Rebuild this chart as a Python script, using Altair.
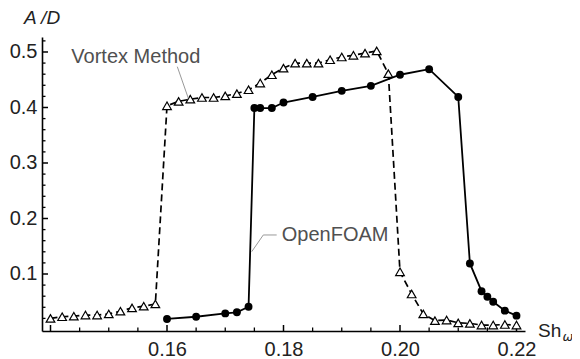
import altair as alt
import pandas as pd

# ---- data ----
vm_x = [0.140, 0.142, 0.144, 0.146, 0.148, 0.150, 0.152, 0.154, 0.156, 0.158,
        0.160, 0.162, 0.164, 0.166, 0.168, 0.170, 0.172, 0.174, 0.176, 0.178,
        0.180, 0.182, 0.184, 0.186, 0.188, 0.190, 0.192, 0.194, 0.196, 0.198,
        0.200, 0.202, 0.204, 0.206, 0.208, 0.210, 0.212, 0.214, 0.216, 0.218, 0.220]
vm_y = [0.020, 0.023, 0.024, 0.026, 0.026, 0.028, 0.033, 0.039, 0.042, 0.046,
        0.403, 0.411, 0.415, 0.418, 0.418, 0.421, 0.425, 0.432, 0.444, 0.459,
        0.471, 0.480, 0.480, 0.480, 0.486, 0.491, 0.494, 0.498, 0.502, 0.461,
        0.104, 0.064, 0.028, 0.016, 0.017, 0.012, 0.011, 0.008, 0.008, 0.009, 0.008]

of_x = [0.160, 0.165, 0.170, 0.172, 0.174, 0.175, 0.176, 0.178, 0.180, 0.185,
        0.190, 0.195, 0.200, 0.205, 0.210, 0.212, 0.214, 0.215, 0.216, 0.218, 0.220]
of_y = [0.019, 0.023, 0.029, 0.031, 0.041, 0.399, 0.399, 0.399, 0.409, 0.419,
        0.430, 0.439, 0.459, 0.469, 0.419, 0.119, 0.069, 0.059, 0.050, 0.034, 0.025]

x_labels = [0.16, 0.18, 0.20, 0.22]
x_major = [0.14, 0.16, 0.18, 0.20, 0.22]
x_minor = [0.145, 0.15, 0.155, 0.165, 0.17, 0.175, 0.185, 0.19, 0.195, 0.205, 0.21, 0.215]
y_major = [0.1, 0.2, 0.3, 0.4, 0.5]
y_minor = [0.02, 0.04, 0.06, 0.08, 0.12, 0.14, 0.16, 0.18, 0.22, 0.24, 0.26, 0.28,
           0.32, 0.34, 0.36, 0.38, 0.42, 0.44, 0.46, 0.48, 0.52]

labels = ["Vortex Method", "OpenFOAM"]
label_x = [0.15465, 0.1797]
label_y = [0.4905, 0.1695]
leader_group = ["vm", "vm", "of", "of", "of"]
leader_x = [0.16177, 0.16366, 0.17454, 0.17653, 0.17883]
leader_y = [0.4735, 0.4166, 0.1402, 0.1703, 0.1703]

x_domain = [0.13854, 0.22146]
y_domain = [-0.0027, 0.527]

W, H = 483, 294
FONT = "Liberation Sans"

xscale = alt.Scale(domain=x_domain, nice=False, zero=False)
yscale = alt.Scale(domain=y_domain, nice=False, zero=False)
xaxis = alt.Axis(values=x_labels, format=".2f", ticks=False, grid=False, labelFontSize=20,
                 labelFont=FONT, labelColor="#222", labelPadding=8, domainColor="black",
                 domainWidth=1.6, title=None)
yaxis = alt.Axis(values=y_major, format=".1f", ticks=False, grid=False, labelFontSize=20,
                 labelFont=FONT, labelColor="#222", labelPadding=5, domainColor="black",
                 domainWidth=1.6, title=None)


def X(f):
    return alt.X(f, type="quantitative", scale=xscale, axis=xaxis, title=None)


def Y(f):
    return alt.Y(f, type="quantitative", scale=yscale, axis=yaxis, title=None)


vm = pd.DataFrame({"x": vm_x, "y": vm_y})
of = pd.DataFrame({"x": of_x, "y": of_y})

vm_line = alt.Chart(vm).mark_line(color="black", strokeWidth=1.7, strokeDash=[7, 4]).encode(x=X("x"), y=Y("y"))
vm_pts = alt.Chart(vm).mark_point(shape="triangle-up", filled=True, fill="white", stroke="black",
                                  strokeWidth=1.2, size=75, opacity=1).encode(x=X("x"), y=Y("y"))
of_line = alt.Chart(of).mark_line(color="black", strokeWidth=1.8).encode(x=X("x"), y=Y("y"))
of_pts = alt.Chart(of).mark_circle(color="black", size=62, opacity=1).encode(x=X("x"), y=Y("y"))

yt_major = alt.Chart(pd.DataFrame({"v": y_major})).mark_rule(color="black", strokeWidth=1.5).encode(
    y=Y("v"), x=alt.value(0), x2=alt.value(6))
yt_minor = alt.Chart(pd.DataFrame({"v": y_minor})).mark_rule(color="black", strokeWidth=1.3).encode(
    y=Y("v"), x=alt.value(0), x2=alt.value(3.5))
xt_major = alt.Chart(pd.DataFrame({"v": x_major})).mark_rule(color="black", strokeWidth=1.5).encode(
    x=X("v"), y=alt.value(H), y2=alt.value(H - 6))
xt_minor = alt.Chart(pd.DataFrame({"v": x_minor})).mark_rule(color="black", strokeWidth=1.3).encode(
    x=X("v"), y=alt.value(H), y2=alt.value(H - 3.5))

leaders = alt.Chart(pd.DataFrame({"g": leader_group, "x": leader_x, "y": leader_y,
                                  "o": list(range(len(leader_x)))})).mark_line(
    color="#999", strokeWidth=1).encode(x=X("x"), y=Y("y"), detail="g:N", order="o:Q")

lab_df = pd.DataFrame({"t": labels, "x": label_x, "y": label_y})
lab_vm = alt.Chart(lab_df.iloc[[0]]).mark_text(font=FONT, fontSize=20, color="#505050",
                                               align="center", baseline="middle").encode(
    x=X("x"), y=Y("y"), text="t:N")
lab_of = alt.Chart(lab_df.iloc[[1]]).mark_text(font=FONT, fontSize=20, color="#505050",
                                               align="left", baseline="middle").encode(
    x=X("x"), y=Y("y"), text="t:N")

ytitle = alt.Chart(pd.DataFrame({"t": ["A /D"]})).mark_text(
    font=FONT, fontSize=19, fontStyle="italic", color="#222",
    align="center", baseline="alphabetic").encode(
    x=alt.value(0), y=alt.value(-13.5), text="t:N")
xt1 = alt.Chart(pd.DataFrame({"t": ["Sh"]})).mark_text(font=FONT, fontSize=19, color="#222",
                                                      align="left", baseline="alphabetic").encode(
    x=alt.value(496), y=alt.value(299.7), text="t:N")
xt2 = alt.Chart(pd.DataFrame({"t": ["ω"]})).mark_text(font="DejaVu Sans", fontSize=13, fontStyle="italic",
                                                     color="#222", align="left", baseline="alphabetic").encode(
    x=alt.value(520.5), y=alt.value(304), text="t:N")

chart = alt.layer(
    yt_major, yt_minor, xt_major, xt_minor,
    vm_line, of_line, vm_pts, of_pts,
    leaders, lab_vm, lab_of, ytitle, xt1, xt2,
).properties(
    width=W, height=H,
    padding={"left": 34, "top": 29, "right": 47, "bottom": 28},
    autosize=alt.AutoSizeParams(type="none"),
).configure_view(stroke=None)

chart.save("out.html", embed_options={"renderer": "svg", "actions": False})
